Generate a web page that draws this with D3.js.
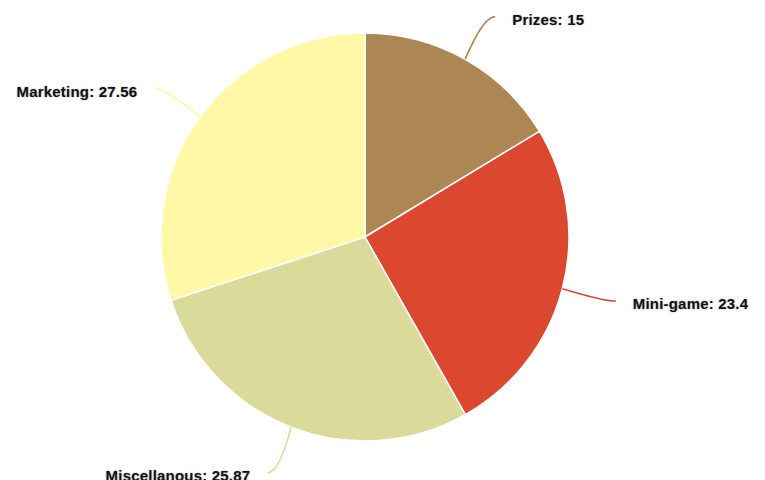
<!DOCTYPE html>
<html>
<head>
<meta charset="utf-8">
<script src="https://cdn.jsdelivr.net/npm/d3@7"></script>
<style>
  html, body { margin: 0; padding: 0; background: #fff; }
  svg { display: block; }
  .label {
    font-family: "Liberation Sans", Arial, Helvetica, sans-serif;
    font-weight: bold;
    font-size: 15px;
    letter-spacing: 0.2px;
    fill: #111;
    text-shadow: 0 0 2px rgba(0,0,0,0.35);
  }
</style>
</head>
<body>
<svg id="chart" width="765" height="480"></svg>
<script>
// Budget breakdown by category
const categories = ["Prizes", "Mini-game", "Miscellanous", "Marketing"];
const values = [15, 23.4, 25.87, 27.56];
const colors = ["#AD8753", "#DC4730", "#DADB9B", "#FFF8A6"];

const width = 765, height = 480;
const cx = 365, cy = 237;
const radius = 204;
const labelRadius = 253;   // ring on which connectors end
const connectorShift = 6;  // extra horizontal push of the connector end
const labelGap = 17;       // gap between connector end and label text

const data = categories.map((c, i) => ({ name: c, value: values[i], color: colors[i] }));

const svg = d3.select("#chart");
const g = svg.append("g").attr("transform", `translate(${cx},${cy})`);

const pie = d3.pie().value(d => d.value).sort(null);
const arcs = pie(data);

const arc = d3.arc().innerRadius(0).outerRadius(radius);
const edgeArc = d3.arc().innerRadius(radius).outerRadius(radius);
const outerArc = d3.arc().innerRadius(labelRadius).outerRadius(labelRadius);

const sideOf = d => Math.sin((d.startAngle + d.endAngle) / 2) >= 0 ? 1 : -1;
const endPoint = d => {
  const [x, y] = outerArc.centroid(d);
  return [x + sideOf(d) * connectorShift, y];
};

// slices
g.selectAll("path.slice")
  .data(arcs)
  .join("path")
  .attr("class", "slice")
  .attr("d", arc)
  .attr("fill", d => d.data.color)
  .attr("stroke", "#fff")
  .attr("stroke-width", 1.5)
  .attr("stroke-linejoin", "round");

// connectors: from slice edge, bending horizontally into the label
g.selectAll("path.connector")
  .data(arcs)
  .join("path")
  .attr("class", "connector")
  .attr("fill", "none")
  .attr("stroke", d => d.data.color)
  .attr("stroke-width", 1.6)
  .attr("d", d => {
    const side = sideOf(d);
    const [x0, y0] = edgeArc.centroid(d);
    const [x1, y1] = endPoint(d);
    const p = d3.path();
    p.moveTo(x0, y0);
    p.quadraticCurveTo(x1 - side * 12, y1, x1, y1);
    return p.toString();
  });

// labels
g.selectAll("text.label")
  .data(arcs)
  .join("text")
  .attr("class", "label")
  .attr("x", d => endPoint(d)[0] + sideOf(d) * labelGap)
  .attr("y", d => endPoint(d)[1] + 3)
  .attr("dy", "0.35em")
  .attr("text-anchor", d => sideOf(d) > 0 ? "start" : "end")
  .text(d => `${d.data.name}: ${d.data.value}`);
</script>
</body>
</html>
